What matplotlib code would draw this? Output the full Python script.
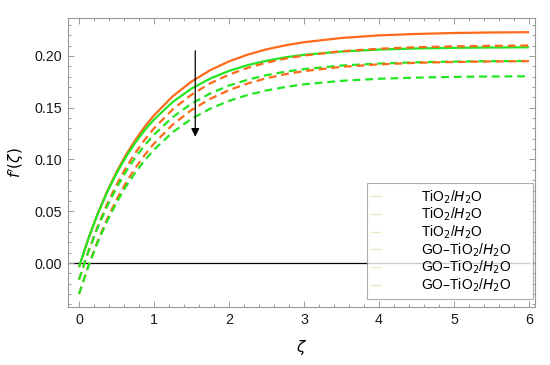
import matplotlib
matplotlib.use("Agg")
import matplotlib.pyplot as plt
from matplotlib.lines import Line2D
from matplotlib.ticker import MultipleLocator, FormatStrFormatter

plt.rcParams['font.family'] = ['Liberation Sans', 'DejaVu Sans']
plt.rcParams['mathtext.fontset'] = 'dejavusans'

zeta = [0, 0.125, 0.25, 0.375, 0.5, 0.625, 0.75, 0.875, 1, 1.25, 1.5, 1.75,
        2, 2.25, 2.5, 2.75, 3, 3.5, 4, 4.5, 5, 5.5, 6]

tio2_solid = [-0.0040, 0.0236, 0.0479, 0.0692, 0.0879, 0.1044, 0.1188, 0.1315, 0.1427,
              0.1611, 0.1753, 0.1863, 0.1948, 0.2013, 0.2064, 0.2103, 0.2133, 0.2174,
              0.2199, 0.2213, 0.2222, 0.2227, 0.2230]
tio2_dash1 = [-0.0160, 0.0115, 0.0357, 0.0569, 0.0755, 0.0919, 0.1063, 0.1190, 0.1301,
              0.1485, 0.1626, 0.1736, 0.1820, 0.1885, 0.1936, 0.1974, 0.2004, 0.2046,
              0.2070, 0.2085, 0.2093, 0.2098, 0.2101]
tio2_dash2 = [-0.0300, -0.0026, 0.0214, 0.0425, 0.0611, 0.0774, 0.0917, 0.1043, 0.1154,
              0.1337, 0.1478, 0.1586, 0.1670, 0.1735, 0.1785, 0.1824, 0.1854, 0.1895,
              0.1919, 0.1934, 0.1942, 0.1947, 0.1950]
go_solid = [-0.0040, 0.0236, 0.0475, 0.0684, 0.0866, 0.1024, 0.1162, 0.1282, 0.1386,
            0.1556, 0.1685, 0.1782, 0.1856, 0.1912, 0.1954, 0.1987, 0.2011, 0.2043,
            0.2062, 0.2073, 0.2079, 0.2082, 0.2084]
go_dash1 = [-0.0160, 0.0108, 0.0343, 0.0547, 0.0726, 0.0882, 0.1018, 0.1137, 0.1240,
            0.1410, 0.1540, 0.1638, 0.1714, 0.1771, 0.1815, 0.1848, 0.1873, 0.1908,
            0.1927, 0.1939, 0.1946, 0.1950, 0.1952]
go_dash2 = [-0.0300, -0.0033, 0.0201, 0.0404, 0.0582, 0.0738, 0.0873, 0.0992, 0.1095,
            0.1264, 0.1393, 0.1491, 0.1566, 0.1624, 0.1667, 0.1700, 0.1726, 0.1760,
            0.1780, 0.1791, 0.1798, 0.1802, 0.1804]

legend_labels = [r'TiO$_2$/$H_2$O', r'TiO$_2$/$H_2$O', r'TiO$_2$/$H_2$O',
                 r'GO–TiO$_2$/$H_2$O', r'GO–TiO$_2$/$H_2$O', r'GO–TiO$_2$/$H_2$O']

orange = '#FF6A1A'
green = '#22E622'

fig = plt.figure(figsize=(5.5, 3.65), dpi=100)
ax = fig.add_axes([0.1236, 0.1589, 0.8491, 0.7918])

series = [
    (tio2_solid, orange, '-'),
    (go_solid, green, '-'),
    (tio2_dash1, orange, '--'),
    (go_dash1, green, '--'),
    (tio2_dash2, orange, '--'),
    (go_dash2, green, '--'),
]
for ys, c, ls in series:
    if ls == '-':
        ax.plot(zeta, ys, color=c, lw=1.6, solid_capstyle='butt')
    else:
        ax.plot(zeta, ys, color=c, lw=1.6, dashes=(3.5, 2.2))

ax.axhline(0, color='black', lw=0.9, zorder=1)

ax.annotate('', xy=(1.55, 0.122), xytext=(1.55, 0.205),
            arrowprops=dict(arrowstyle='-|>', color='black', lw=0.9,
                            mutation_scale=12, shrinkA=0, shrinkB=0))

ax.set_xlim(-0.147, 6.08)
ax.set_ylim(-0.0425, 0.2367)
ax.xaxis.set_major_locator(MultipleLocator(1))
ax.xaxis.set_minor_locator(MultipleLocator(0.2))
ax.yaxis.set_major_locator(MultipleLocator(0.05))
ax.yaxis.set_minor_locator(MultipleLocator(0.01))
ax.yaxis.set_major_formatter(FormatStrFormatter('%.2f'))

for s in ax.spines.values():
    s.set_color('#999999')
    s.set_linewidth(0.8)
ax.tick_params(which='both', direction='in', top=True, right=True,
               color='#999999', width=0.7, labelsize=10.3, labelcolor='#1a1a1a')
ax.tick_params(which='major', length=4, pad=4)
ax.tick_params(which='minor', length=2)

ax.set_xlabel(r'$\zeta$', fontsize=11, labelpad=8)
ax.set_ylabel(r"$f'(\zeta)$", fontsize=11, labelpad=6)

handle_colors = ['#F3E3C8', '#F3E3C8', '#F3E3C8', '#D8F0C8', '#D8F0C8', '#D8F0C8']
handles = [Line2D([0], [0], color=c, lw=1.0) for c in handle_colors]
padded_labels = [lab + '     ' for lab in legend_labels]
leg = ax.legend(handles, padded_labels, loc='lower right',
                bbox_to_anchor=(0.9957, 0.028), fontsize=10, frameon=True,
                fancybox=False, edgecolor='#999999', handlelength=0.6,
                handletextpad=3.0, labelspacing=0.02, borderpad=0.35,
                borderaxespad=0)
leg.get_frame().set_linewidth(0.8)

fig.savefig('out.png', dpi=100)
